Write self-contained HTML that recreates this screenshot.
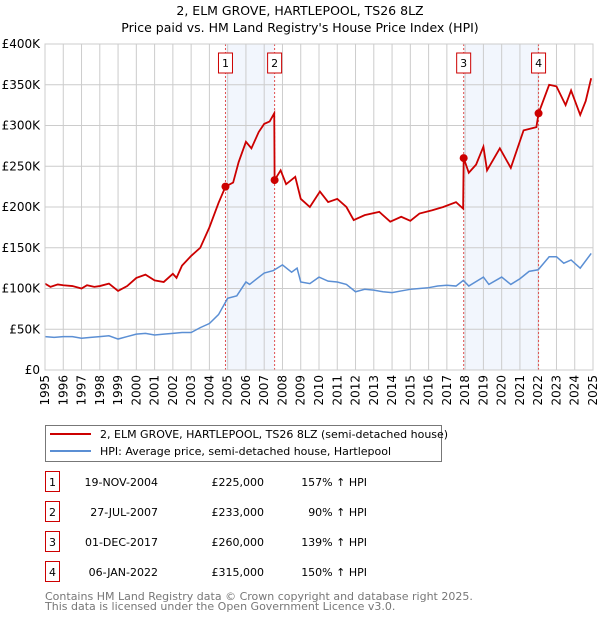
<!DOCTYPE html>
<html><head><meta charset="utf-8"><style>
body{margin:0;background:#fff;font-family:"Liberation Sans","DejaVu Sans",sans-serif;}
svg text{font-family:"DejaVu Sans","Liberation Sans",sans-serif;}
</style></head><body>
<svg id="c" width="600" height="620" xmlns="http://www.w3.org/2000/svg">
<text x="300" y="15" text-anchor="middle" font-size="12.5">2, ELM GROVE, HARTLEPOOL, TS26 8LZ</text>
<text x="300" y="32" text-anchor="middle" font-size="12.5">Price paid vs. HM Land Registry's House Price Index (HPI)</text>
<g id="plot"></g>
<g>
<rect x="45.5" y="425.5" width="396" height="36" fill="#fff" stroke="#777"/>
<line x1="50" y1="434" x2="91" y2="434" stroke="#cc0000" stroke-width="2"/>
<text x="100" y="438" font-size="11">2, ELM GROVE, HARTLEPOOL, TS26 8LZ (semi-detached house)</text>
<line x1="50" y1="451" x2="91" y2="451" stroke="#5b8fd4" stroke-width="2"/>
<text x="100" y="455" font-size="11">HPI: Average price, semi-detached house, Hartlepool</text>
</g>
<g id="table" font-size="11"></g>
<text x="45" y="600" font-size="11" fill="#777">Contains HM Land Registry data © Crown copyright and database right 2025.</text>
<text x="45" y="610" font-size="11" fill="#777">This data is licensed under the Open Government Licence v3.0.</text>
</svg>
<script>
const hpiYears=[1995,1995.5,1996,1996.5,1997,1997.5,1998,1998.5,1999,1999.5,2000,2000.5,2001,2001.5,2002,2002.5,2003,2003.5,2004,2004.5,2005,2005.5,2006,2006.2,2007,2007.5,2008,2008.5,2008.8,2009,2009.5,2010,2010.5,2011,2011.5,2012,2012.5,2013,2013.5,2014,2014.5,2015,2015.5,2016,2016.5,2017,2017.5,2017.9,2018.2,2019,2019.3,2020,2020.5,2021,2021.5,2022,2022.6,2023,2023.4,2023.8,2024.3,2024.9];
const hpiValues=[41,40,41,41,39,40,41,42,38,41,44,45,43,44,45,46,46,52,57,68,88,91,108,105,119,122,129,120,125,108,106,114,109,108,105,96,99,98,96,95,97,99,100,101,103,104,103,110,103,114,105,114,105,112,121,123,139,139,131,135,125,143];
const redYears=[1995,1995.3,1995.7,1996,1996.5,1997,1997.3,1997.7,1998,1998.5,1999,1999.5,2000,2000.5,2001,2001.5,2002,2002.2,2002.5,2003,2003.5,2004,2004.5,2004.88,2005.3,2005.6,2006,2006.3,2006.7,2007,2007.3,2007.55,2007.57,2007.9,2008.2,2008.7,2009,2009.5,2010.05,2010.5,2011,2011.5,2011.9,2012.5,2013.3,2013.9,2014.5,2015,2015.5,2016.2,2016.8,2017.5,2017.89,2017.92,2018.2,2018.6,2019,2019.2,2019.9,2020.5,2021.2,2021.9,2022.02,2022.6,2023,2023.5,2023.8,2024.3,2024.6,2024.9];
const redValues=[106,102,105,104,103,100,104,102,103,106,97,103,113,117,110,108,118,113,128,140,150,175,205,225,230,255,280,272,292,302,305,315,233,245,228,237,210,200,219,206,210,200,184,190,194,182,188,183,192,196,200,206,198,260,242,252,274,245,272,248,294,298,315,350,348,325,343,313,330,358];
const saleDates=[2004.88,2007.57,2017.92,2022.02];
const salePrices=[225,233,260,315];
const saleLabels=["19-NOV-2004","27-JUL-2007","01-DEC-2017","06-JAN-2022"];
const salePriceText=["£225,000","£233,000","£260,000","£315,000"];
const salePctText=["157% ↑ HPI","90% ↑ HPI","139% ↑ HPI","150% ↑ HPI"];
const yTicks=[0,50,100,150,200,250,300,350,400];
const yTickLabels=["£0","£50K","£100K","£150K","£200K","£250K","£300K","£350K","£400K"];
const xTicks=[1995,1996,1997,1998,1999,2000,2001,2002,2003,2004,2005,2006,2007,2008,2009,2010,2011,2012,2013,2014,2015,2016,2017,2018,2019,2020,2021,2022,2023,2024,2025];

const NS="http://www.w3.org/2000/svg";
const X0=45,X1=593,Y0=370,Y1=44;
const x=v=>X0+(v-1995)/30*(X1-X0);
const y=v=>Y0-v/400*(Y0-Y1);
function mk(tag,attrs,parent){const e=document.createElementNS(NS,tag);for(const k in attrs)e.setAttribute(k,attrs[k]);parent.appendChild(e);return e;}
const g=document.getElementById('plot');
for(let i=0;i<saleDates.length;i+=2){
 const r=mk('rect',{x:x(saleDates[i]),y:Y1,width:x(saleDates[i+1])-x(saleDates[i]),height:Y0-Y1,fill:'#f2f6fd'},g);
 
 
}
yTicks.forEach((v,i)=>{
 const l=mk('line',{x1:X0,x2:X1,y1:y(v),y2:y(v),stroke:'#ccc'},g);
 
 
 const t=mk('text',{x:40,y:y(v)+4,'text-anchor':'end','font-size':12},g);t.textContent=yTickLabels[i];
 
 
});
xTicks.forEach(v=>{
 const l=mk('line',{x1:x(v),x2:x(v),y1:Y1,y2:Y0,stroke:'#ccc'},g);
 
 
 const t=mk('text',{x:0,y:0,'text-anchor':'end','font-size':12,transform:`translate(${x(v)+4},${Y0+5}) rotate(-90)`},g);t.textContent=v;
 
 
});
saleDates.forEach((d,i)=>{
 const l=mk('line',{x1:x(d),x2:x(d),y1:Y1,y2:Y0,stroke:'#e05050','stroke-dasharray':'2,2'},g);
 
 
 const b=mk('rect',{x:x(d)-7,y:53,width:14,height:20,fill:'#fff',stroke:'#cc0000'},g);
 
 
 const t=mk('text',{x:x(d),y:67,'text-anchor':'middle','font-size':11},g);t.textContent=i+1;
 
 
});
const hp=hpiYears.map((t,i)=>x(t)+','+y(hpiValues[i])).join(' ');
const hl=mk('polyline',{points:hp,fill:'none',stroke:'#5b8fd4','stroke-width':1.5},g);


const rp=redYears.map((t,i)=>x(t)+','+y(redValues[i])).join(' ');
const pl=mk('polyline',{points:rp,fill:'none',stroke:'#cc0000','stroke-width':1.8},g);


saleDates.forEach((d,i)=>{
 const c=mk('circle',{cx:x(d),cy:y(salePrices[i]),r:4,fill:'#cc0000'},g);
 
 
});
mk('rect',{x:X0,y:Y1,width:X1-X0,height:Y0-Y1,fill:'none',stroke:'#ccc'},g);
const tb=document.getElementById('table');
saleDates.forEach((d,i)=>{
 const yy=483+i*30;
 const b=mk('rect',{x:45.5,y:yy-11.5,width:14,height:20,fill:'#fff',stroke:'#cc0000'},tb);
 
 
 const n=mk('text',{x:52.5,y:yy+3,'text-anchor':'middle'},tb);n.textContent=i+1;
 
 
 const a=mk('text',{x:158,y:yy+3,'text-anchor':'end'},tb);a.textContent=saleLabels[i];
 
 
 const p=mk('text',{x:264,y:yy+3,'text-anchor':'end'},tb);p.textContent=salePriceText[i];
 
 
 const h=mk('text',{x:367,y:yy+3,'text-anchor':'end'},tb);h.textContent=salePctText[i];
 
 
});
</script>
</body></html>
